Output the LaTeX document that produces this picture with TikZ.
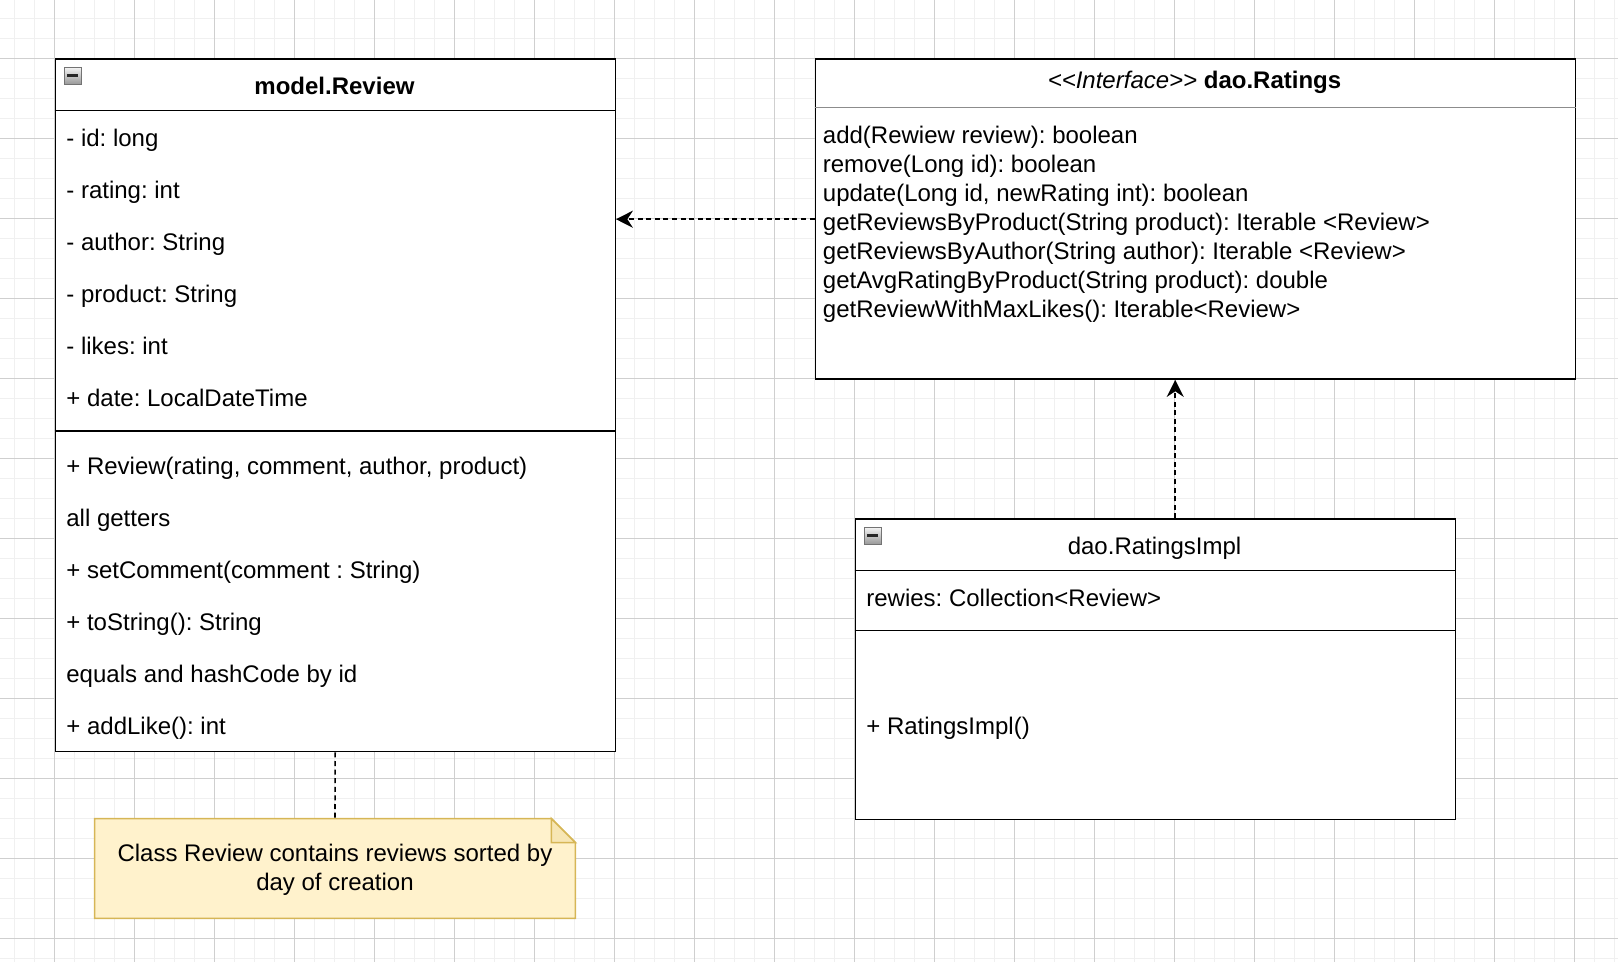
\documentclass[tikz,border=0pt]{standalone}
\usepackage{fontspec}
\setmainfont{Liberation Sans}
\usetikzlibrary{arrows.meta}
\frenchspacing

\definecolor{notefill}{HTML}{FFF2CC}
\definecolor{noteline}{HTML}{D6B656}

\tikzset{
  classbox/.style={draw, line width=0.7pt, fill=white, inner sep=0pt, anchor=north west},
  member/.style={anchor=base west, inner sep=0pt, font=\fontsize{12}{14.45}\selectfont},
  title/.style={anchor=base, inner sep=0pt, font=\fontsize{12}{14.45}\selectfont},
  dep/.style={dash pattern=on 2.5pt off 1.8pt, line width=0.8pt, -{Stealth[length=8.5pt, width=8.5pt, inset=2.8pt]}},
  minorgrid/.style={draw=black!6, line width=0.5pt},
  majorgrid/.style={draw=black!19, line width=0.5pt},
  collapse/.style={draw=black!55, top color=black!6, bottom color=black!42, line width=0.5pt}
}

\begin{document}
\begin{tikzpicture}[x=0.5pt, y=-0.5pt]
\useasboundingbox (0,0) rectangle (1618,962);

% background grid
\foreach \gx in {14.7,34.7,...,1618} \draw[minorgrid] (\gx,0) -- (\gx,962);
\foreach \gy in {18.3,38.3,...,962} \draw[minorgrid] (0,\gy) -- (1618,\gy);
\foreach \gx in {54.7,134.7,...,1618} \draw[majorgrid] (\gx,0) -- (\gx,962);
\foreach \gy in {58.3,138.3,...,962} \draw[majorgrid] (0,\gy) -- (1618,\gy);

% model.Review
\node[classbox, minimum width=280pt, minimum height=346.25pt] (review) at (54.5,58.5) {};
\draw[line width=0.7pt] (review.west |- 0,110.5) -- (review.east |- 0,110.5);
\draw[line width=0.7pt] (review.west |- 0,431) -- (review.east |- 0,431);
\draw[collapse] (64,68) rectangle (81,85);
\draw[line width=1.1pt, black!85] (67,75.5) -- (78,75.5);
\node[title, font=\fontsize{12}{14.45}\selectfont\bfseries] (reviewname) at (334.5,94.5) {model.Review};

\node[member] (revid) at (66,146.5) {- id: long};
\node[member] (revrating) at (66,198.5) {- rating: int};
\node[member] (revauthor) at (66,250.5) {- author: String};
\node[member] (revproduct) at (66,302.5) {- product: String};
\node[member] (revlikes) at (66,354.5) {- likes: int};
\node[member] (revdate) at (66,406.5) {+ date: LocalDateTime};

\node[member] (revctor) at (66,474.5) {+ Review(rating, comment, author, product)};
\node[member] (revget) at (66,526.5) {all getters};
\node[member] (revset) at (66,578.5) {+ setComment(comment : String)};
\node[member] (revstr) at (66,630.5) {+ toString(): String};
\node[member] (reveq) at (66,682.5) {equals and hashCode by id};
\node[member] (revlike) at (66,734.5) {+ addLike(): int};

% dao.Ratings
\node[classbox, minimum width=380pt, minimum height=160pt] (ratings) at (814.5,58.5) {};
\draw[line width=0.7pt, black!45] (ratings.west |- 0,107.5) -- (ratings.east |- 0,107.5);
\node[title] (ratingsname) at (1194.5,88.5) {\textit{<\kern0pt<Interface>\kern0pt>} \textbf{dao.Ratings}};

\node[member] (ratadd) at (822.5,144) {add(Rewiew review): boolean};
\node[member] (ratremove) at (822.5,172.9) {remove(Long id): boolean};
\node[member] (ratupdate) at (822.5,201.8) {update(Long id, newRating int): boolean};
\node[member] (ratbyprod) at (822.5,230.7) {getReviewsByProduct(String product): Iterable <Review>};
\node[member] (ratbyauth) at (822.5,259.6) {getReviewsByAuthor(String author): Iterable <Review>};
\node[member] (ratavg) at (822.5,288.5) {getAvgRatingByProduct(String product): double};
\node[member] (ratmax) at (822.5,317.4) {getReviewWithMaxLikes(): Iterable<Review>};

% dao.RatingsImpl
\node[classbox, minimum width=300pt, minimum height=150pt] (impl) at (854.5,518.5) {};
\draw[line width=0.7pt] (impl.west |- 0,570.5) -- (impl.east |- 0,570.5);
\draw[line width=0.7pt] (impl.west |- 0,630.5) -- (impl.east |- 0,630.5);
\draw[collapse] (864,528) rectangle (881,545);
\draw[line width=1.1pt, black!85] (867,535.5) -- (878,535.5);
\node[title] (implname) at (1154.5,554) {dao.RatingsImpl};
\node[member] (implfield) at (866,606.5) {rewies: Collection<Review>};
\node[member] (implctor) at (866,734.5) {+ RatingsImpl()};

% note
\node[inner sep=0pt, minimum width=240pt, minimum height=49.5pt] (note) at (335,868.5) {};
\filldraw[fill=notefill, draw=noteline, line width=0.8pt]
  (note.north west) -- ([xshift=-12pt]note.north east) -- ([yshift=-12pt]note.north east)
  -- (note.south east) -- (note.south west) -- cycle;
\filldraw[fill=notefill!80!noteline, draw=noteline, line width=0.8pt]
  ([xshift=-12pt]note.north east) -- ([xshift=-12pt,yshift=-12pt]note.north east)
  -- ([yshift=-12pt]note.north east) -- cycle;
\node[inner sep=0pt, align=center, font=\fontsize{12}{14.45}\selectfont] (notetext) at ([yshift=-0.5pt]note.center)
      {Class Review contains reviews sorted by\\day of creation};

% connectors
\draw[dep] (ratings.west) -- (review.east |- ratings.west);
\draw[dep] ([xshift=10pt]impl.north) -- ([xshift=-10pt]ratings.south);
\draw[dash pattern=on 2.5pt off 1.8pt, line width=0.8pt] (review.south) -- (note.north);

\end{tikzpicture}
\end{document}
